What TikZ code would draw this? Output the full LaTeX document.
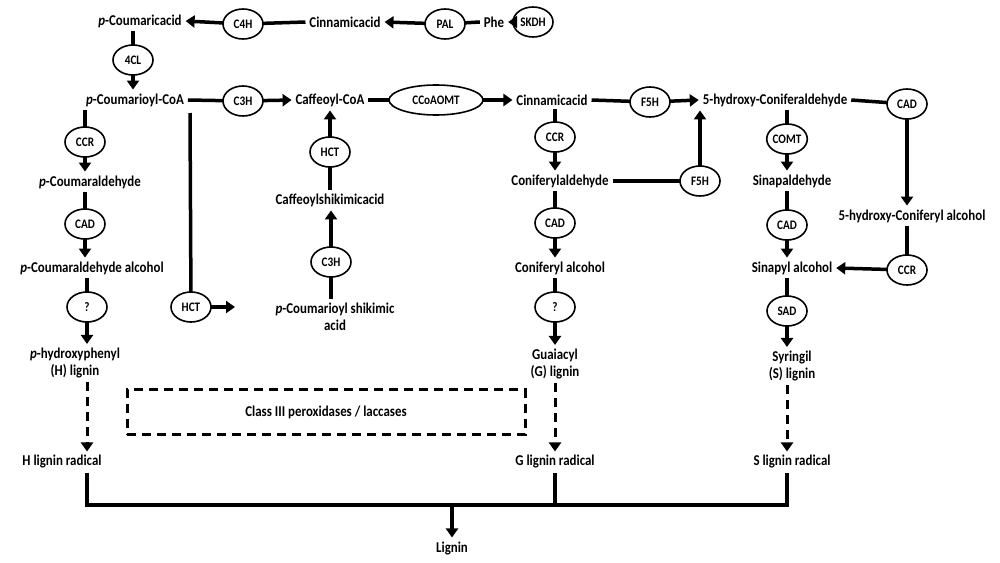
\documentclass[tikz,border=0pt]{standalone}
\usepackage{fontspec}
\setmainfont{Carlito}[FakeStretch=0.86]
\usetikzlibrary{shapes.geometric,arrows.meta}
\begin{document}
\begin{tikzpicture}[x=1pt,y=-1pt,
 t/.style={font=\fontsize{15}{17}\selectfont\bfseries,inner sep=1pt,outer sep=3pt,align=center},
 e/.style={ellipse,draw,line width=1.6pt,minimum width=40,minimum height=30,inner sep=0pt,outer sep=0pt,font=\fontsize{13}{14}\selectfont\bfseries},
 ln/.style={line width=3.5pt},
 ar/.style={line width=3.5pt,-{Triangle[length=9pt,width=12pt]}},
 da/.style={line width=3pt,dash pattern=on 9pt off 6pt,-{Triangle[length=9pt,width=12pt]}}]
\useasboundingbox (0,0) rectangle (1000,562);
% row 1
\node[t] (pca) at (140,21) {\textit{p}-Coumaricacid};
\node[e] (c4h) at (243,24) {C4H};
\node[t] (cin1) at (345,22) {Cinnamicacid};
\node[e] (pal) at (445,24) {PAL};
\node[t] (phe) at (494,22) {Phe};
\node[e] (skdh) at (533,22) {SKDH};
\draw[ar] (skdh.west) -- (phe.east);
\draw[ln] (phe.west) -- (pal);
\draw[ar] (pal) -- (cin1.east);
\draw[ln] (cin1.west) -- (c4h);
\draw[ar] (c4h) -- (pca.east);
\node[e] (e4cl) at (133,60) {4CL};
\node[t] (pcoa) at (135,100) {\textit{p}-Coumarioyl-CoA};
\draw[ln] (pca.south -| e4cl) -- (e4cl);
\draw[ar] (e4cl) -- (e4cl |- pcoa.north);
% row 2
\node[e] (c3h) at (243,101) {C3H};
\node[t] (caff) at (330,100) {Caffeoyl-CoA};
\node[e,minimum width=94] (ccoa) at (436,100) {CCoAOMT};
\node[t] (cin2) at (552,100) {Cinnamicacid};
\node[e] (f5h1) at (650,102) {F5H};
\node[t] (hca) at (775,100) {5-hydroxy-Coniferaldehyde};
\node[e] (cad4) at (907,104) {CAD};
\draw[ln] (pcoa.east) -- (c3h);
\draw[ar] (c3h) -- (caff.west);
\draw[ln] (caff.east) -- (ccoa);
\draw[ar] (ccoa) -- (cin2.west);
\draw[ln] (cin2.east) -- (f5h1);
\draw[ar] (f5h1) -- (hca.west);
\draw[ln] (hca.east) -- (cad4);
% H column
\node[e] (ccr1) at (85,142) {CCR};
\node[t] (pcald) at (90,182) {\textit{p}-Coumaraldehyde};
\node[e] (cad1) at (85,224) {CAD};
\node[t] (pcalc) at (92,268) {\textit{p}-Coumaraldehyde alcohol};
\node[e] (q1) at (87,307) {?};
\node[t] (hl) at (75,363) {\textit{p}-hydroxyphenyl\\(H) lignin};
\node[t] (hr) at (62,462) {H lignin radical};
\draw[ln] (pcoa.south -| ccr1) -- (ccr1);
\draw[ar] (ccr1) -- (ccr1 |- pcald.north);
\draw[ln] (pcald.south -| cad1) -- (cad1);
\draw[ar] (cad1) -- (cad1 |- pcalc.north);
\draw[ln] (pcalc.south -| q1) -- (q1);
\draw[ar] (q1) -- (q1 |- hl.north);
\draw[da] (hl.south -| q1) -- (q1 |- hr.north);
% HCT branch
\coordinate (hctt) at (190,113);
\node[e] (hct1) at (191,307) {HCT};
\node[t] (pcsa) at (335,317) {\textit{p}-Coumarioyl shikimic\\acid};
\draw[ln] (hctt) -- (hct1);
\draw[ar] (hct1) -- (235,307);
\node[e] (c3h2) at (331,262) {C3H};
\node[t] (csa) at (330,200) {Caffeoylshikimicacid};
\node[e] (hct2) at (330,152) {HCT};
\draw[ln] (c3h2 |- pcsa.north) -- (c3h2);
\draw[ar] (c3h2) -- (c3h2 |- csa.south);
\draw[ln] (csa.north -| hct2) -- (hct2);
\draw[ar] (hct2) -- (hct2 |- caff.south);
% G column
\node[e] (ccr2) at (555,137) {CCR};
\node[t] (conald) at (560,181) {Coniferylaldehyde};
\node[e] (cad2) at (555,223) {CAD};
\node[t] (conalc) at (560,268) {Coniferyl alcohol};
\node[e] (q2) at (555,307) {?};
\node[t] (gl) at (555,364) {Guaiacyl\\(G) lignin};
\node[t] (gr) at (555,462) {G lignin radical};
\draw[ln] (cin2.south -| ccr2) -- (ccr2);
\draw[ar] (ccr2) -- (ccr2 |- conald.north);
\draw[ln] (conald.south -| cad2) -- (cad2);
\draw[ar] (cad2) -- (cad2 |- conalc.north);
\draw[ln] (conalc.south -| q2) -- (q2);
\draw[ar] (q2) -- (q2 |- gl.north);
\draw[da] (gl.south) -- (gr.north);
\node[e] (f5h2) at (700,181) {F5H};
\draw[ln] (conald.east) -- (f5h2);
\draw[ar] (f5h2) -- (f5h2 |- hca.south);
% S column
\node[e] (comt) at (787,139) {COMT};
\node[t] (sinald) at (792,181) {Sinapaldehyde};
\node[e] (cad3) at (787,225) {CAD};
\node[t] (sinalc) at (792,268) {Sinapyl alcohol};
\node[e] (sad) at (787,311) {SAD};
\node[t] (sl) at (792,366) {Syringil\\(S) lignin};
\node[t] (sr) at (792,462) {S lignin radical};
\draw[ln] (hca.south -| comt) -- (comt);
\draw[ar] (comt) -- (comt |- sinald.north);
\draw[ln] (sinald.south -| cad3) -- (cad3);
\draw[ar] (cad3) -- (cad3 |- sinalc.north);
\draw[ln] (sinalc.south -| sad) -- (sad);
\draw[ar] (sad) -- (sad |- sl.north);
\draw[da] (sl.south -| sad) -- (sad |- sr.north);
\node[t] (hcalc) at (912,216) {5-hydroxy-Coniferyl alcohol};
\node[e] (ccr3) at (907,270) {CCR};
\draw[ar] (cad4) -- (cad4 |- hcalc.north);
\draw[ln] (hcalc.south -| ccr3) -- (ccr3);
\draw[ar] (ccr3) -- (sinalc.east);
% box
\node[t,draw,line width=3pt,dash pattern=on 9pt off 6pt,minimum width=398,minimum height=45,outer sep=0pt] (box) at (326,412) {Class III peroxidases / laccases};
% bottom
\node[t] (lig) at (452,548) {Lignin};
\coordinate (j) at (452,505);
\draw[ln] (q1 |- hr.south) -- (q1 |- j) -- (sad |- j) -- (sad |- sr.south);
\draw[ln] (q2 |- gr.south) -- (q2 |- j);
\draw[ar] (j) -- (lig.north);
\end{tikzpicture}
\end{document}
